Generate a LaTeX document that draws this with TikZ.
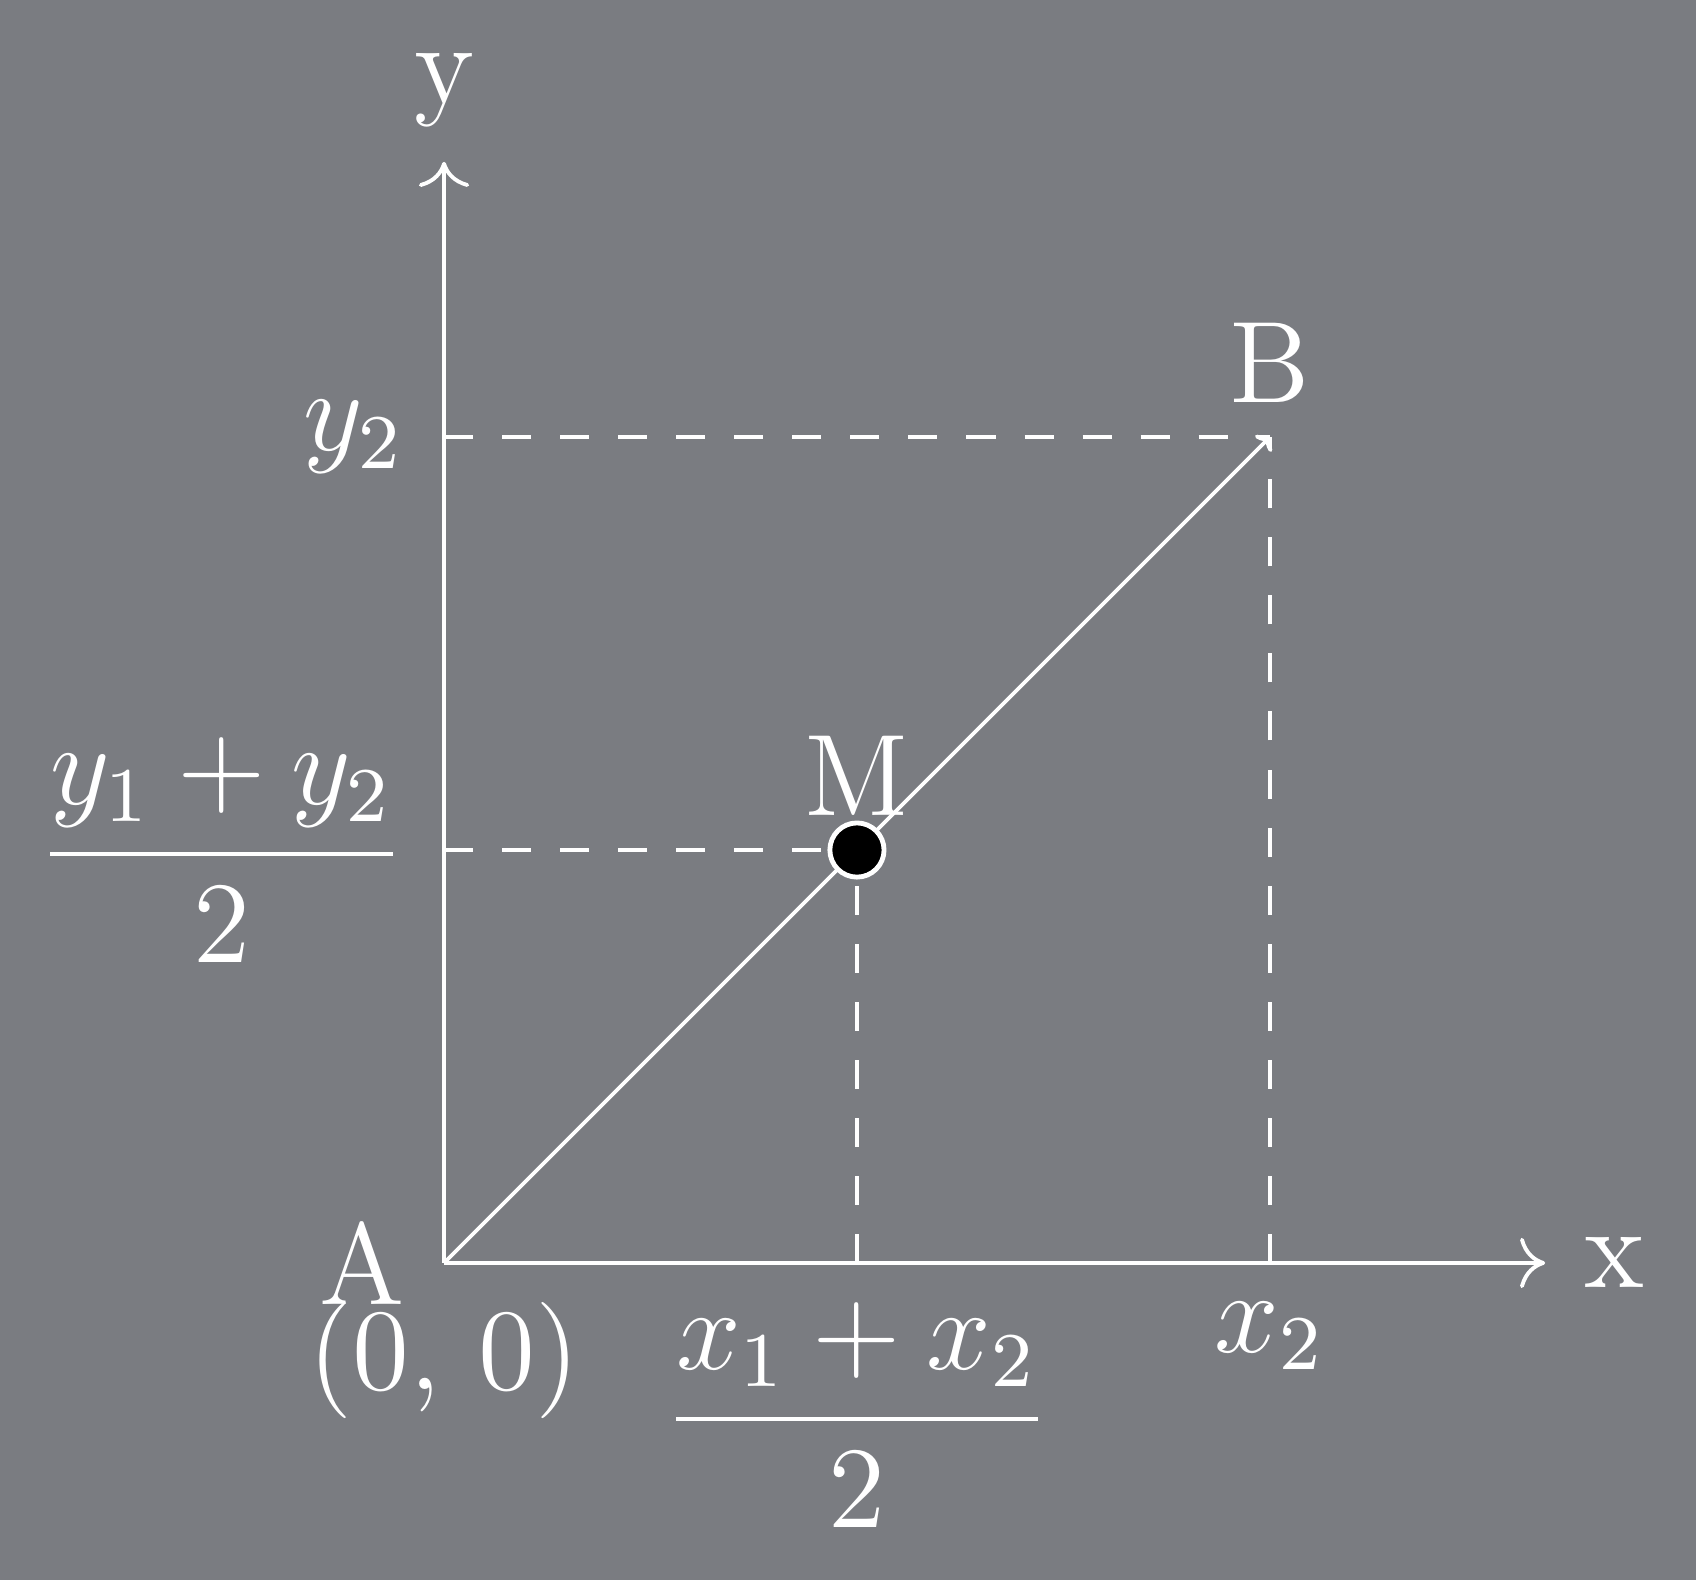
\documentclass[tikz,border=0pt]{standalone}
\usetikzlibrary{arrows.meta}
\definecolor{bg}{RGB}{122,124,129}
\tikzset{
  every node/.style={font=\fontsize{12}{14.4}\selectfont, text=white},
  lbl/.style={outer sep=0.75pt},
  axis/.style={draw=white, line width=0.4pt, -{To[length=2.6pt,width=5.2pt]}},
  guide/.style={draw=white, line width=0.4pt, dashed},
  seg/.style={draw=white, line width=0.4pt, -{To[length=1.1pt,width=2.4pt]}},
  middot/.style={circle, fill=black, draw=white, line width=0.5pt, minimum size=5.6pt, inner sep=0pt}
}
\begin{document}
\begin{tikzpicture}
  \fill[bg] (-1.613,-1.1515) rectangle (4.548,4.588);
  \useasboundingbox (-1.613,-1.1515) rectangle (4.548,4.588);
  \coordinate (O) at (0,0);
  \coordinate (X) at (4,0);
  \coordinate (Y) at (0,4);
  \coordinate (B) at (3,3);
  \coordinate (M) at (1.5,1.5);
  \coordinate (Bx) at (3,0);
  \coordinate (By) at (0,3);
  \coordinate (Mx) at (1.5,0);
  \coordinate (My) at (0,1.5);
  % axes
  \draw[axis] (O) -- (X);
  \draw[axis] (O) -- (Y);
  \node[right,lbl] (xlab) at (X) {x};
  \node[above] (ylab) at (Y) {y};
  % guides
  \draw[guide] (By) -- (B);
  \draw[guide] (Bx) -- (B);
  \draw[guide] (My) -- (M);
  \draw[guide] (Mx) -- (M);
  % segment
  \draw[seg] (O) -- (B);
  \node[middot] (dot) at (M) {};
  % labels
  \node[left,lbl] (alab) at (O) {A};
  \node[below,lbl] (olab) at (O) {(0, 0)};
  \node[above] (blab) at (B) {B};
  \node[above] (mlab) at (M) {M};
  \node[left,lbl] (y2lab) at (By) {$y_2$};
  \node[below,lbl] (x2lab) at (Bx) {$x_2$};
  \node[left,lbl] (ymlab) at (My) {$\displaystyle\frac{y_1 + y_2}{2}$};
  \node[below,lbl] (xmlab) at (Mx) {$\displaystyle\frac{x_1 + x_2}{2}$};
\end{tikzpicture}
\end{document}
